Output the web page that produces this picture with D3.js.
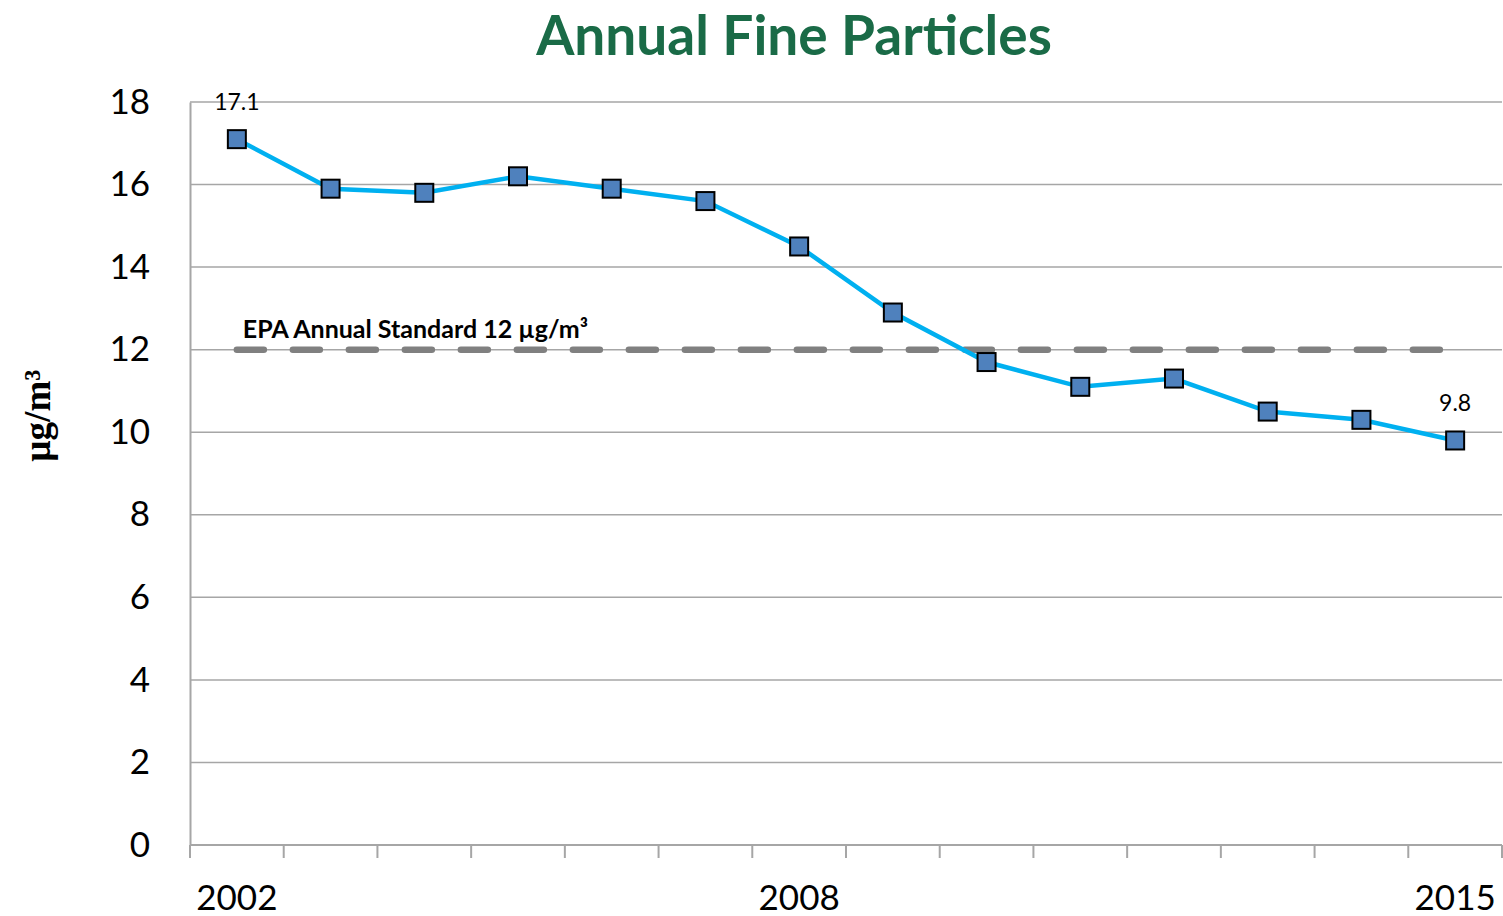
<!DOCTYPE html>
<html>
<head>
<meta charset="utf-8">
<script src="https://cdn.jsdelivr.net/npm/d3@7"></script>
<style>
body { margin: 0; background: #fff; }
</style>
</head>
<body>
<div id="chart"></div>
<script>
let years = [2002, 2003, 2004, 2005, 2006, 2007, 2008, 2009, 2010, 2011, 2012, 2013, 2014, 2015]
let pm25 = [17.1, 15.9, 15.8, 16.2, 15.9, 15.6, 14.5, 12.9, 11.7, 11.1, 11.3, 10.5, 10.3, 9.8]
let yTicks = [0, 2, 4, 6, 8, 10, 12, 14, 16, 18]
let xLabelYears = [2002, 2008, 2015]
let labelledYears = [2002, 2015]
let standard = 12

let width = 1503
let height = 916
let plotLeft = 190, plotRight = 1502, plotTop = 102, plotBottom = 845
let font = "Lato, 'Open Sans', sans-serif"

const svg = d3.select('#chart')
	.append('svg')
	.attr('width', width)
	.attr('height', height)

let xScale = d3.scaleBand()
	.domain(years)
	.range([plotLeft, plotRight])

let yScale = d3.scaleLinear()
	.domain([0, 18])
	.range([plotBottom, plotTop])

let cx = d => xScale(d) + xScale.bandwidth() / 2

// gridlines
svg.append('g')
	.selectAll('line')
	.data(yTicks)
	.enter()
	.append('line')
	.attr('x1', plotLeft)
	.attr('x2', plotRight)
	.attr('y1', d => yScale(d))
	.attr('y2', d => yScale(d))
	.attr('stroke', '#a6a6a6')
	.attr('stroke-width', 1.5)

// y axis
let yG = svg.append('g')
	.attr('transform', `translate(${plotLeft},0)`)
	.call(d3.axisLeft(yScale).tickValues(yTicks).tickSize(0).tickPadding(40))
yG.select('.domain').attr('stroke', '#a6a6a6').attr('stroke-width', 2)
yG.selectAll('text')
	.attr('font-family', font)
	.attr('font-size', 35)
	.attr('fill', '#000')

// x axis
let xTickPos = d3.range(years.length + 1).map(i => plotLeft + i * xScale.step())
let xG = svg.append('g')
	.attr('transform', `translate(0,${plotBottom})`)
xG.append('line')
	.attr('x1', plotLeft).attr('x2', plotRight)
	.attr('stroke', '#a6a6a6').attr('stroke-width', 2)
xG.selectAll('.tick')
	.data(xTickPos)
	.enter()
	.append('line')
	.attr('x1', d => d).attr('x2', d => d)
	.attr('y1', 0).attr('y2', 13)
	.attr('stroke', '#a6a6a6').attr('stroke-width', 2)
xG.selectAll('text')
	.data(xLabelYears)
	.enter()
	.append('text')
	.attr('x', d => cx(d))
	.attr('y', 65)
	.attr('text-anchor', 'middle')
	.attr('font-family', font)
	.attr('font-size', 35)
	.text(d => d)

// standard line
svg.append('line')
	.attr('x1', cx(years[0]))
	.attr('x2', cx(years[years.length - 1]) - 15)
	.attr('y1', yScale(standard))
	.attr('y2', yScale(standard))
	.attr('stroke', '#808080')
	.attr('stroke-width', 6.5)
	.attr('stroke-linecap', 'round')
	.attr('stroke-dasharray', '27 29')

svg.append('text')
	.attr('x', cx(years[0]) + 6)
	.attr('y', yScale(standard) - 12)
	.attr('font-family', font)
	.attr('font-weight', 'bold')
	.attr('font-size', 25)
	.text('EPA Annual Standard 12 µg/m³')

// data line
let line = d3.line()
	.x((d, i) => cx(years[i]))
	.y(d => yScale(d))

svg.append('path')
	.datum(pm25)
	.attr('d', line)
	.attr('fill', 'none')
	.attr('stroke', '#00b0f0')
	.attr('stroke-width', 4.5)

svg.selectAll('.marker')
	.data(pm25)
	.enter()
	.append('rect')
	.attr('x', (d, i) => cx(years[i]) - 9)
	.attr('y', d => yScale(d) - 9)
	.attr('width', 18)
	.attr('height', 18)
	.attr('fill', '#4f81bd')
	.attr('stroke', '#000')
	.attr('stroke-width', 2)

svg.selectAll('.dlabel')
	.data(labelledYears)
	.enter()
	.append('text')
	.attr('x', d => cx(d))
	.attr('y', d => yScale(pm25[years.indexOf(d)]) - 29)
	.attr('text-anchor', 'middle')
	.attr('font-family', font)
	.attr('font-size', 23)
	.text(d => pm25[years.indexOf(d)])

// title
svg.append('text')
	.attr('x', 794)
	.attr('y', 55)
	.attr('text-anchor', 'middle')
	.attr('font-family', font)
	.attr('font-weight', 'bold')
	.attr('font-size', 55)
	.attr('fill', '#1a6b47')
	.text('Annual Fine Particles')

// y label
svg.append('text')
	.attr('transform', `translate(50,${yScale(10.4)}) rotate(-90)`)
	.attr('text-anchor', 'middle')
	.attr('font-family', "'Liberation Serif', serif")
	.attr('font-weight', 'bold')
	.attr('font-size', 37)
	.text('µg/m³')
</script>
</body>
</html>
